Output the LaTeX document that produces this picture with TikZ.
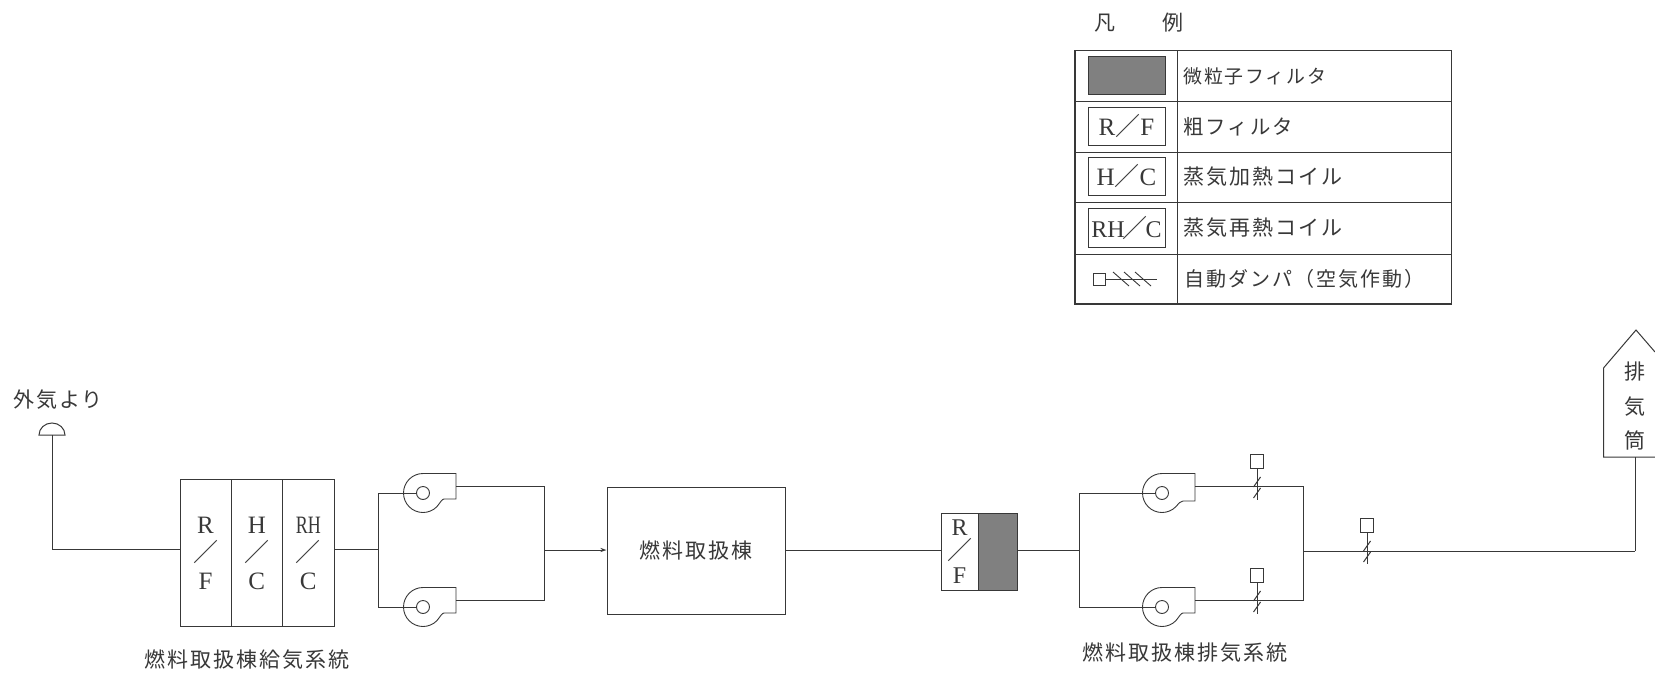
\documentclass[tikz,border=0pt]{standalone}
\usepackage{fontspec}
\usepackage{graphicx}
\setmainfont{Liberation Serif}
\newfontfamily\jp{Noto Sans CJK JP}[LetterSpace=10]
\newfontfamily\jps{Noto Sans CJK JP}
\usetikzlibrary{arrows.meta}
\definecolor{ink}{gray}{0.22}
\definecolor{shade}{gray}{0.5}
\newcommand{\slashx}{{\jps\fontsize{25}{25}\selectfont ／}}
\tikzset{
  x=1pt,y=-1pt,
  pipe/.style={draw=ink,line width=0.9pt},
  boxx/.style={draw=ink,line width=1pt,inner sep=0,text=ink},
  lab/.style={text=ink,font=\jp\fontsize{20}{20}\selectfont,inner sep=0,anchor=west},
  ctr/.style={text=ink,font=\jp\fontsize{21}{21}\selectfont,inner sep=0},
  sym/.style={font=\fontsize{25}{25}\selectfont},
  stackt/.style={inner sep=0,text=ink,align=center,font=\fontsize{25}{28}\selectfont},
  wheel/.style={circle,draw=ink,line width=0.9pt,inner sep=0,minimum size=13pt,fill=white},
  actuator/.style={rectangle,draw=ink,line width=0.9pt,inner sep=0,minimum size=13.5pt,fill=white},
}
% fan: name, x, y, outlet drop
\newcommand{\fanblow}[4]{%
  \draw[ink,line width=0.9pt] (#2,#3-19.5) arc[start angle=270,end angle=45,radius=19.5]
    .. controls (#2+17,#3+10) and (#2+19,#3+#4) .. (#2+21,#3+#4) -- (#2+33,#3+#4) -- (#2+33,#3-19.5) -- cycle;
  \node[wheel] (#1) at (#2,#3) {};
  \coordinate (#1out) at (#2+33,#3-6.5);
}
% damper: name, x, y on the line
\newcommand{\damper}[3]{%
  \node[actuator] (#1) at (#2,#3-25.5) {};
  \coordinate (#1end) at (#2,#3+13);
  \draw[ink,line width=0.9pt] (#1.south) -- (#1end);
  \draw[ink,line width=1pt] (#2-3.5,#3+0) -- (#2+3.5,#3-10);
  \draw[ink,line width=1pt] (#2-3.5,#3+11) -- (#2+3.5,#3+1);
}
\begin{document}
\begin{tikzpicture}
\useasboundingbox[fill=white] (0,0) rectangle (1655,675);
\clip (0,0) rectangle (1655,675);
% legend
\node[ctr] (lt1) at (1105,23) {凡};
\node[ctr] (lt2) at (1173,23) {例};
\draw[ink,line width=1.5pt] (1075,50.5) rectangle (1451.5,304);
\draw[ink,line width=0.9pt] (1177,50.5) -- (1177,304);
\foreach \y in {101,152,202,254}{\draw[ink,line width=1pt] (1075,\y) -- (1451.5,\y);}
\node[boxx,fill=shade,minimum width=77pt,minimum height=38pt] (lfine) at (1126.5,75) {};
\node[boxx,sym,minimum width=77pt,minimum height=38pt] (lrf) at (1126.5,126) {R\slashx F};
\node[boxx,sym,minimum width=77pt,minimum height=38pt] (lhc) at (1126.5,176) {H\slashx C};
\node[boxx,font=\fontsize{24}{24}\selectfont,minimum width=77pt,minimum height=39pt] (lrh) at (1126.5,227.5) {RH\kern-2pt\slashx\kern-2pt C};
\node[lab,font=\jp\fontsize{18.9}{20}\selectfont] (l1) at (1183,76) {微粒子フィルタ};
\node[lab,font=\jp\fontsize{20.4}{20}\selectfont] (l2) at (1183,127) {粗フィルタ};
\node[lab,font=\jp\fontsize{21}{20}\selectfont] (l3) at (1183,177) {蒸気加熱コイル};
\node[lab,font=\jp\fontsize{21}{20}\selectfont] (l4) at (1183,228) {蒸気再熱コイル};
\node[lab] (l5) at (1184,279) {自動ダンパ（空気作動）};
\node[actuator,minimum size=12pt] (ldbox) at (1099,279) {};
\coordinate (ldend) at (1157,279);
\draw[ink,line width=0.9pt] (ldbox.east) -- (ldend);
\foreach \d in {1113,1124,1135}{\draw[ink,line width=0.9pt] (\d,272) -- (\d+16,286);}
% supply side
\node[ctr] (intake) at (58,400) {外気より};
\draw[ink,line width=1pt,fill=white] (39,435) arc[start angle=180,end angle=360,x radius=13,y radius=12] -- cycle;
\coordinate (hood) at (52,435);
\coordinate (bend) at (52,549);
\node[boxx,minimum width=51pt,minimum height=147pt,stackt] (srf) at (205.5,553) {R\\[0pt]\slashx\\[0pt]F};
\node[boxx,minimum width=51.5pt,minimum height=147pt,stackt] (shc) at (256.8,553) {H\\[0pt]\slashx\\[0pt]C};
\node[boxx,minimum width=51.5pt,minimum height=147pt,stackt] (srh) at (308.3,553) {\scalebox{.72}[1]{RH}\\[0pt]\slashx\\[0pt]C};
\draw[pipe] (hood) -- (bend) -- (srf.west |- bend);
\coordinate (sbl) at (378,549);
\coordinate (sbt) at (378,493);
\coordinate (sbb) at (378,607);
\fanblow{sfa}{423}{493}{6}
\fanblow{sfb}{423}{607}{6}
\coordinate (sjt) at (544,486.5);
\coordinate (sjb) at (544,600.5);
\coordinate (sjm) at (544,550);
\draw[pipe] (srh.east |- sbl) -- (sbl);
\draw[pipe] (sfa.west) -- (sbt) -- (sbb) -- (sfb.west);
\draw[pipe] (sfaout) -- (sjt) -- (sjb) -- (sfbout);
% building
\node[boxx,minimum width=178pt,minimum height=127pt,font=\jp\fontsize{21}{21}\selectfont] (bld) at (696,550.5) {燃料取扱棟};
\draw[pipe,-{Stealth[open,length=6pt,width=4pt]}] (sjm) -- (bld.west |- sjm);
\node[ctr] (cap1) at (247,660) {燃料取扱棟給気系統};
% exhaust side
\node[boxx,minimum width=37pt,minimum height=77pt,stackt,fill=white,font=\fontsize{24}{28}\selectfont] (xrf) at (959.5,551.5) {R\\[-4pt]\slashx\\[-4pt]F};
\node[boxx,fill=shade,minimum width=39pt,minimum height=77pt] (xfine) at (997.5,551.5) {};
\draw[pipe] (bld.east) -- (xrf.west |- bld.east);
\coordinate (xbm) at (1079,550.5);
\coordinate (xbt) at (1079,493);
\coordinate (xbb) at (1079,607);
\fanblow{xfa}{1162}{493}{8}
\fanblow{xfb}{1162}{607}{6}
\coordinate (xjt) at (1303,486.5);
\coordinate (xjb) at (1303,600.5);
\coordinate (xjm) at (1303,551);
\coordinate (xcorner) at (1635,551);
\draw[pipe] (xfine.east |- xbm) -- (xbm);
\draw[pipe] (xfa.west) -- (xbt) -- (xbb) -- (xfb.west);
\draw[pipe] (xfaout) -- (xjt) -- (xjb) -- (xfbout);
\draw[pipe] (xjm) -- (xcorner);
\damper{da}{1257}{487}
\damper{db}{1257}{601}
\damper{dc}{1367}{551}
\node[ctr] (cap2) at (1185,653) {燃料取扱棟排気系統};
% stack
\coordinate (stackb) at (1635,457);
\draw[pipe] (xcorner) -- (stackb);
\draw[ink,line width=1pt] (1655,352) -- (1636,330) -- (1603.5,368) -- (1603.5,457) -- (1655,457);
\node[ctr] (st1) at (1635,372) {排};
\node[ctr] (st2) at (1635,407) {気};
\node[ctr] (st3) at (1635,440) {筒};
\end{tikzpicture}
\end{document}
